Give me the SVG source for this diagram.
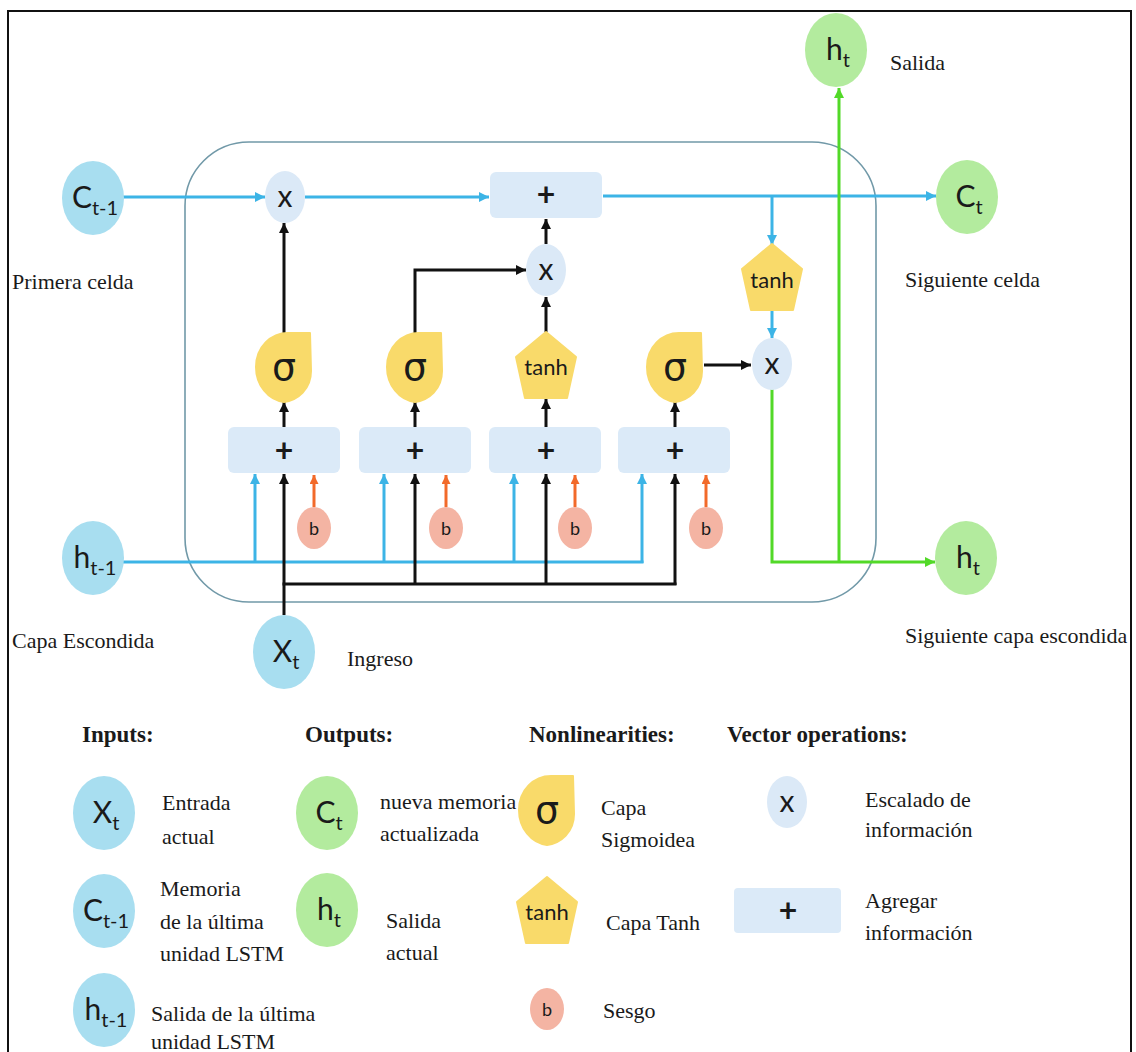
<svg xmlns="http://www.w3.org/2000/svg" width="1136" height="1052" viewBox="0 0 1136 1052">
  <style>
    .lbl { font-family: Lato, "Open Sans", "DejaVu Sans", sans-serif; fill: #1a1a1a; text-anchor: middle; }
    .sym { font-family: "DejaVu Sans", sans-serif; fill: #1a1a1a; text-anchor: middle; }
    .cap { font-family: "Liberation Serif", "Times New Roman", serif; font-size: 22px; fill: #1a1a1a; }
    .hdr { font-family: "Liberation Serif", "Times New Roman", serif; font-size: 23px; font-weight: bold; fill: #1a1a1a; }
    .in { fill: #a8def0; }
    .out { fill: #b3eb9e; }
    .mul { fill: #dbe9f7; }
    .add { fill: #dbeaf8; }
    .gate { fill: #f9da6a; stroke: #f9da6a; stroke-width: 2; stroke-linejoin: round; }
    .bias { fill: #f4b4a3; }
    .blue { stroke: #3cb4e6; stroke-width: 3; fill: none; }
    .black { stroke: #111; stroke-width: 3; fill: none; }
    .orange { stroke: #f26a2a; stroke-width: 3; fill: none; }
    .green { stroke: #52d928; stroke-width: 3; fill: none; }
  </style>
  <defs>
    <marker id="ahBlack" viewBox="0 0 10 10" refX="10" refY="5" markerWidth="10" markerHeight="10" markerUnits="userSpaceOnUse" orient="auto">
      <path d="M0,0 L10,5 L0,10 z" fill="#111"/>
    </marker>
    <marker id="ahBlue" viewBox="0 0 10 10" refX="10" refY="5" markerWidth="10" markerHeight="10" markerUnits="userSpaceOnUse" orient="auto">
      <path d="M0,0 L10,5 L0,10 z" fill="#3cb4e6"/>
    </marker>
    <marker id="ahOrange" viewBox="0 0 10 10" refX="10" refY="5" markerWidth="9" markerHeight="9" markerUnits="userSpaceOnUse" orient="auto">
      <path d="M0,0 L10,5 L0,10 z" fill="#f26a2a"/>
    </marker>
    <marker id="ahGreen" viewBox="0 0 10 10" refX="10" refY="5" markerWidth="10" markerHeight="10" markerUnits="userSpaceOnUse" orient="auto">
      <path d="M0,0 L10,5 L0,10 z" fill="#52d928"/>
    </marker>
    <!-- sigmoid gate: rounded drop with a sharp top-right corner -->
    <path id="sigmaShape" d="M26,-34 L27,4 C27,22 14,33 0,35 C-16,33 -28,18 -28,0 C-28,-20 -13,-34 4,-34 Z"/>
    <!-- tanh gate: pentagon -->
    <path id="tanhShape" d="M0,-34 L30,-9 L21,32 L-21,32 L-30,-9 Z"/>
    <ellipse id="bigNode" rx="31" ry="37"/>
    <ellipse id="mulNode" rx="20" ry="26"/>
    <ellipse id="biasNode" rx="17" ry="21"/>
    <rect id="addBox" x="-56" y="-23" width="112" height="46" rx="6"/>
  </defs>

  <!-- frame -->
  <rect x="8" y="11" width="1123" height="1070" fill="#fff" stroke="#111" stroke-width="2"/>

  <!-- cell boundary -->
  <rect id="cell" x="185" y="142" width="691" height="460" rx="64" fill="none" stroke="#7199a8" stroke-width="1.6"/>

  <!-- connectors -->
  <g id="connectors">
    <!-- cell state path -->
    <line class="blue" x1="123" y1="197" x2="265" y2="197" marker-end="url(#ahBlue)"/>
    <line class="blue" x1="305" y1="197" x2="489" y2="197" marker-end="url(#ahBlue)"/>
    <line class="blue" x1="603" y1="196" x2="936" y2="196" marker-end="url(#ahBlue)"/>
    <line class="blue" x1="772" y1="196" x2="772" y2="245" marker-end="url(#ahBlue)"/>
    <line class="blue" x1="772" y1="311" x2="772" y2="338" marker-end="url(#ahBlue)"/>
    <!-- output gate to output multiply -->
    <line class="black" x1="704" y1="365" x2="751" y2="365" marker-end="url(#ahBlack)"/>
    <!-- hidden state out -->
    <path class="green" d="M772,389 V562 H935" marker-end="url(#ahGreen)"/>
    <line class="green" x1="839" y1="562" x2="839" y2="88" marker-end="url(#ahGreen)"/>
    <!-- forget gate -->
    <line class="black" x1="284" y1="333" x2="284" y2="223" marker-end="url(#ahBlack)"/>
    <!-- input gate -->
    <path class="black" d="M415,333 V270 H526" marker-end="url(#ahBlack)"/>
    <!-- candidate -->
    <line class="black" x1="546" y1="332" x2="546" y2="297" marker-end="url(#ahBlack)"/>
    <line class="black" x1="546" y1="244" x2="546" y2="219" marker-end="url(#ahBlack)"/>
    <!-- sums to gates -->
    <line class="black" x1="284" y1="427" x2="284" y2="402" marker-end="url(#ahBlack)"/>
    <line class="black" x1="415" y1="427" x2="415" y2="402" marker-end="url(#ahBlack)"/>
    <line class="black" x1="546" y1="427" x2="546" y2="399" marker-end="url(#ahBlack)"/>
    <line class="black" x1="675" y1="427" x2="675" y2="402" marker-end="url(#ahBlack)"/>
    <!-- previous hidden state bus -->
    <line class="blue" x1="123" y1="562" x2="643.5" y2="562"/>
    <line class="blue" x1="255" y1="563" x2="255" y2="474" marker-end="url(#ahBlue)"/>
    <line class="blue" x1="384" y1="563" x2="384" y2="474" marker-end="url(#ahBlue)"/>
    <line class="blue" x1="514" y1="563" x2="514" y2="474" marker-end="url(#ahBlue)"/>
    <line class="blue" x1="642" y1="563" x2="642" y2="474" marker-end="url(#ahBlue)"/>
    <!-- input bus -->
    <line class="black" x1="284" y1="615" x2="284" y2="474" marker-end="url(#ahBlack)"/>
    <line class="black" x1="282.5" y1="584" x2="676.5" y2="584"/>
    <line class="black" x1="415" y1="585" x2="415" y2="474" marker-end="url(#ahBlack)"/>
    <line class="black" x1="546" y1="585" x2="546" y2="474" marker-end="url(#ahBlack)"/>
    <line class="black" x1="675" y1="585" x2="675" y2="474" marker-end="url(#ahBlack)"/>
    <!-- biases -->
    <line class="orange" x1="314" y1="507" x2="314" y2="475" marker-end="url(#ahOrange)"/>
    <line class="orange" x1="446" y1="507" x2="446" y2="475" marker-end="url(#ahOrange)"/>
    <line class="orange" x1="575" y1="507" x2="575" y2="475" marker-end="url(#ahOrange)"/>
    <line class="orange" x1="706" y1="507" x2="706" y2="475" marker-end="url(#ahOrange)"/>
  </g>

  <!-- external nodes -->
  <g id="c_prev">
    <use href="#bigNode" x="93" y="198" class="in"/>
    <text class="lbl" x="95" y="208" font-size="30">C<tspan font-size="20" dy="7">t-1</tspan></text>
  </g>
  <text class="cap" x="12" y="289">Primera celda</text>

  <g id="h_prev">
    <use href="#bigNode" x="93" y="558" class="in"/>
    <text class="lbl" x="95" y="568" font-size="30">h<tspan font-size="20" dy="7">t-1</tspan></text>
  </g>
  <text class="cap" x="12" y="648">Capa Escondida</text>

  <g id="x_t">
    <use href="#bigNode" x="284" y="652" class="in"/>
    <text class="lbl" x="286" y="662" font-size="30">X<tspan font-size="20" dy="7">t</tspan></text>
  </g>
  <text class="cap" x="347" y="666">Ingreso</text>

  <g id="h_out_top">
    <use href="#bigNode" x="836" y="50" class="out"/>
    <text class="lbl" x="838" y="60" font-size="30">h<tspan font-size="20" dy="7">t</tspan></text>
  </g>
  <text class="cap" x="890" y="70">Salida</text>

  <g id="c_next">
    <use href="#bigNode" x="967" y="197" class="out"/>
    <text class="lbl" x="969" y="207" font-size="30">C<tspan font-size="20" dy="7">t</tspan></text>
  </g>
  <text class="cap" x="905" y="287">Siguiente celda</text>

  <g id="h_next">
    <use href="#bigNode" x="966" y="558" class="out"/>
    <text class="lbl" x="968" y="568" font-size="30">h<tspan font-size="20" dy="7">t</tspan></text>
  </g>
  <text class="cap" x="905" y="643">Siguiente capa escondida</text>

  <!-- cell state operations -->
  <g id="mul_forget">
    <use href="#mulNode" x="285" y="197" class="mul"/>
    <text class="lbl" x="285" y="207" font-size="30">x</text>
  </g>
  <g id="add_state">
    <use href="#addBox" x="546" y="195" class="add"/>
    <text class="lbl" x="546" y="206" font-size="32" font-weight="bold">+</text>
  </g>
  <g id="mul_input">
    <use href="#mulNode" x="546" y="270" class="mul"/>
    <text class="lbl" x="546" y="280" font-size="30">x</text>
  </g>
  <g id="tanh_state">
    <use href="#tanhShape" x="772" y="278" class="gate"/>
    <text class="lbl" x="772" y="288" font-size="22">tanh</text>
  </g>
  <g id="mul_output">
    <use href="#mulNode" x="772" y="364" class="mul"/>
    <text class="lbl" x="772" y="374" font-size="30">x</text>
  </g>

  <!-- gates -->
  <g id="gate_forget">
    <use href="#sigmaShape" x="284" y="367" class="gate"/>
    <text class="sym" x="284" y="380" font-size="38">σ</text>
  </g>
  <g id="gate_input">
    <use href="#sigmaShape" x="415" y="367" class="gate"/>
    <text class="sym" x="415" y="380" font-size="38">σ</text>
  </g>
  <g id="gate_candidate">
    <use href="#tanhShape" x="546" y="366" class="gate"/>
    <text class="lbl" x="546" y="375" font-size="22">tanh</text>
  </g>
  <g id="gate_output">
    <use href="#sigmaShape" x="675" y="367" class="gate"/>
    <text class="sym" x="675" y="380" font-size="38">σ</text>
  </g>

  <!-- weighted sums -->
  <g id="sum_forget">
    <use href="#addBox" x="284" y="450" class="add"/>
    <text class="lbl" x="284" y="462" font-size="32" font-weight="bold">+</text>
  </g>
  <g id="sum_input">
    <use href="#addBox" x="415" y="450" class="add"/>
    <text class="lbl" x="415" y="462" font-size="32" font-weight="bold">+</text>
  </g>
  <g id="sum_candidate">
    <use href="#addBox" x="545" y="450" class="add"/>
    <text class="lbl" x="546" y="462" font-size="32" font-weight="bold">+</text>
  </g>
  <g id="sum_output">
    <use href="#addBox" x="674" y="450" class="add"/>
    <text class="lbl" x="675" y="462" font-size="32" font-weight="bold">+</text>
  </g>

  <!-- biases -->
  <g id="bias_forget">
    <use href="#biasNode" x="314" y="528" class="bias"/>
    <text class="lbl" x="314" y="535" font-size="18">b</text>
  </g>
  <g id="bias_input">
    <use href="#biasNode" x="446" y="528" class="bias"/>
    <text class="lbl" x="446" y="535" font-size="18">b</text>
  </g>
  <g id="bias_candidate">
    <use href="#biasNode" x="575" y="528" class="bias"/>
    <text class="lbl" x="575" y="535" font-size="18">b</text>
  </g>
  <g id="bias_output">
    <use href="#biasNode" x="706" y="528" class="bias"/>
    <text class="lbl" x="706" y="535" font-size="18">b</text>
  </g>

  <!-- legend -->
  <g id="legend">
    <text class="hdr" x="82" y="742">Inputs:</text>
    <text class="hdr" x="305" y="742">Outputs:</text>
    <text class="hdr" x="529" y="742">Nonlinearities:</text>
    <text class="hdr" x="727" y="742">Vector operations:</text>

    <g id="legend_x">
      <use href="#bigNode" x="104" y="813" class="in"/>
      <text class="lbl" x="106" y="823" font-size="30">X<tspan font-size="20" dy="7">t</tspan></text>
      <text class="cap" x="162" y="810">Entrada</text>
      <text class="cap" x="162" y="844">actual</text>
    </g>
    <g id="legend_c_prev">
      <use href="#bigNode" x="104" y="911" class="in"/>
      <text class="lbl" x="106" y="921" font-size="30">C<tspan font-size="20" dy="7">t-1</tspan></text>
      <text class="cap" x="160" y="896">Memoria</text>
      <text class="cap" x="160" y="929">de la última</text>
      <text class="cap" x="160" y="961">unidad LSTM</text>
    </g>
    <g id="legend_h_prev">
      <use href="#bigNode" x="104" y="1010" class="in"/>
      <text class="lbl" x="106" y="1020" font-size="30">h<tspan font-size="20" dy="7">t-1</tspan></text>
      <text class="cap" x="151" y="1021">Salida de la última</text>
      <text class="cap" x="151" y="1049">unidad LSTM</text>
    </g>

    <g id="legend_c">
      <use href="#bigNode" x="327" y="813" class="out"/>
      <text class="lbl" x="329" y="823" font-size="30">C<tspan font-size="20" dy="7">t</tspan></text>
      <text class="cap" x="380" y="809">nueva memoria</text>
      <text class="cap" x="380" y="841">actualizada</text>
    </g>
    <g id="legend_h">
      <use href="#bigNode" x="327" y="910" class="out"/>
      <text class="lbl" x="329" y="920" font-size="30">h<tspan font-size="20" dy="7">t</tspan></text>
      <text class="cap" x="386" y="928">Salida</text>
      <text class="cap" x="386" y="960">actual</text>
    </g>

    <g id="legend_sigma">
      <use href="#sigmaShape" x="547" y="810" class="gate"/>
      <text class="sym" x="547" y="823" font-size="38">σ</text>
      <text class="cap" x="601" y="815">Capa</text>
      <text class="cap" x="601" y="847">Sigmoidea</text>
    </g>
    <g id="legend_tanh">
      <use href="#tanhShape" x="547" y="911" class="gate"/>
      <text class="lbl" x="547" y="920" font-size="22">tanh</text>
      <text class="cap" x="606" y="930">Capa Tanh</text>
    </g>
    <g id="legend_b">
      <use href="#biasNode" x="547" y="1009" class="bias"/>
      <text class="lbl" x="547" y="1016" font-size="18">b</text>
      <text class="cap" x="603" y="1018">Sesgo</text>
    </g>

    <g id="legend_mul">
      <use href="#mulNode" x="787" y="802" class="mul"/>
      <text class="lbl" x="787" y="812" font-size="30">x</text>
      <text class="cap" x="865" y="807">Escalado de</text>
      <text class="cap" x="865" y="837">información</text>
    </g>
    <g id="legend_add">
      <rect x="734" y="888" width="107" height="45" rx="4" class="add"/>
      <text class="lbl" x="788" y="922" font-size="32" font-weight="bold">+</text>
      <text class="cap" x="865" y="908">Agregar</text>
      <text class="cap" x="865" y="940">información</text>
    </g>
  </g>
</svg>
